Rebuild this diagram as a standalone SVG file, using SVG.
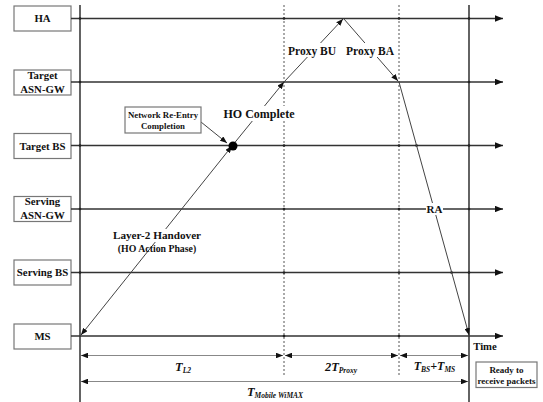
<svg xmlns="http://www.w3.org/2000/svg" width="543" height="402" viewBox="0 0 543 402">
<defs>
<marker id="ah" viewBox="0 0 10 8" refX="10" refY="4" markerWidth="8" markerHeight="6.4" markerUnits="userSpaceOnUse" orient="auto-start-reverse">
<path d="M0,0 L10,4 L0,8 z" fill="#111"/>
</marker>
<marker id="ahs" viewBox="0 0 10 8" refX="10" refY="4" markerWidth="7" markerHeight="5.6" markerUnits="userSpaceOnUse" orient="auto-start-reverse">
<path d="M0,0 L10,4 L0,8 z" fill="#111"/>
</marker>
</defs>
<style>
.box{fill:#fff;stroke:#777;stroke-width:1.2}
.lbl{font-family:"Liberation Serif","Times New Roman",serif;font-weight:bold;fill:#111;text-anchor:middle}
.bx{font-size:10.8px}
.hl{stroke:#333;stroke-width:1.4;fill:none}
.vl{stroke:#222;stroke-width:1.4;fill:none}
.dl{stroke:#555;stroke-width:1;stroke-dasharray:2,2;fill:none}
.msg{stroke:#444;stroke-width:1;fill:none}
.dim{stroke:#888;stroke-width:1.2;fill:none}
.it{font-family:"Liberation Serif","Times New Roman",serif;font-weight:bold;font-style:italic;fill:#111;text-anchor:middle}
.pt{fill:#222}
</style>
<rect width="543" height="402" fill="#fff"/>

<g id="axes">
<line class="vl" x1="80" y1="5" x2="80" y2="402"/>
<line class="vl" x1="469" y1="5" x2="469" y2="402"/>
<line class="dl" x1="284" y1="5" x2="284" y2="377"/>
<line class="dl" x1="399" y1="5" x2="399" y2="377"/>
</g>

<g id="node-ha">
<rect class="box" x="14" y="6" width="57" height="25"/>
<text class="lbl bx" x="42.5" y="22.3">HA</text>
</g>
<g id="node-target-asngw">
<rect class="box" x="14" y="70" width="57" height="25"/>
<text class="lbl bx" x="42.5" y="78.8">Target</text>
<text class="lbl bx" x="42.5" y="92.5">ASN-GW</text>
</g>
<g id="node-target-bs">
<rect class="box" x="14" y="133.5" width="57" height="25"/>
<text class="lbl bx" x="42.5" y="149.8">Target BS</text>
</g>
<g id="node-serving-asngw">
<rect class="box" x="14" y="196.5" width="57" height="25"/>
<text class="lbl bx" x="42.5" y="205.3">Serving</text>
<text class="lbl bx" x="42.5" y="219">ASN-GW</text>
</g>
<g id="node-serving-bs">
<rect class="box" x="14" y="260" width="57" height="25"/>
<text class="lbl bx" x="42.5" y="276.3">Serving BS</text>
</g>
<g id="node-ms">
<rect class="box" x="14" y="324" width="57" height="25"/>
<text class="lbl bx" x="42.5" y="340.3">MS</text>
</g>

<g id="connectors">
<line class="hl" x1="71" y1="18.5" x2="503" y2="18.5" marker-end="url(#ah)"/>
<line class="hl" x1="71" y1="82" x2="503" y2="82" marker-end="url(#ah)"/>
<line class="hl" x1="71" y1="145.5" x2="503" y2="145.5" marker-end="url(#ah)"/>
<line class="hl" x1="71" y1="209" x2="503" y2="209" marker-end="url(#ah)"/>
<line class="hl" x1="71" y1="272.5" x2="503" y2="272.5" marker-end="url(#ah)"/>
<line class="hl" x1="71" y1="336" x2="503" y2="336" marker-end="url(#ah)"/>

<g class="pt">
<circle cx="80" cy="18.5" r="1.3"/><circle cx="80" cy="82" r="1.3"/><circle cx="80" cy="145.5" r="1.3"/><circle cx="80" cy="209" r="1.3"/><circle cx="80" cy="272.5" r="1.3"/>
<circle cx="284" cy="18.5" r="1.3"/><circle cx="284" cy="145.5" r="1.3"/><circle cx="284" cy="209" r="1.3"/><circle cx="284" cy="272.5" r="1.3"/><circle cx="284" cy="336" r="1.3"/>
<circle cx="399" cy="18.5" r="1.3"/><circle cx="399" cy="145.5" r="1.3"/><circle cx="399" cy="209" r="1.3"/><circle cx="399" cy="272.5" r="1.3"/><circle cx="399" cy="336" r="1.3"/>
<circle cx="469" cy="18.5" r="1.3"/><circle cx="469" cy="82" r="1.3"/><circle cx="469" cy="145.5" r="1.3"/><circle cx="469" cy="209" r="1.3"/><circle cx="469" cy="272.5" r="1.3"/>
<circle cx="416.5" cy="145.5" r="1.3"/><circle cx="451.6" cy="272.5" r="1.3"/>
</g>

<line class="msg" x1="232" y1="146" x2="81" y2="335" marker-start="url(#ahs)" marker-end="url(#ahs)"/>
<line class="msg" x1="232" y1="146" x2="284" y2="82" marker-end="url(#ahs)"/>
<line class="msg" x1="284" y1="82" x2="343" y2="19" marker-end="url(#ahs)"/>
<line class="msg" x1="344" y1="19" x2="398" y2="81" marker-end="url(#ahs)"/>
<line class="msg" x1="399" y1="82" x2="469" y2="335" marker-end="url(#ahs)"/>
<line class="msg" x1="201" y1="122" x2="227" y2="143" marker-end="url(#ahs)"/>
<circle cx="233" cy="146" r="4.5" fill="#000"/>

<line class="dim" x1="81" y1="355.5" x2="283" y2="355.5" marker-start="url(#ahs)" marker-end="url(#ahs)"/>
<line class="dim" x1="285" y1="355.5" x2="398" y2="355.5" marker-start="url(#ahs)" marker-end="url(#ahs)"/>
<line class="dim" x1="400" y1="355.5" x2="468" y2="355.5" marker-start="url(#ahs)" marker-end="url(#ahs)"/>
<line class="dim" x1="81" y1="381.5" x2="468" y2="381.5" marker-start="url(#ahs)" marker-end="url(#ahs)"/>
</g>

<g id="node-network-reentry">
<rect class="box" x="125" y="107" width="76" height="26"/>
<text class="lbl" x="163" y="118" font-size="8.8">Network Re-Entry</text>
<text class="lbl" x="163" y="129" font-size="8.8">Completion</text>
</g>

<g id="labels">
<rect x="223" y="106" width="72" height="15" fill="#fff"/>
<text class="lbl" x="259" y="118" font-size="12">HO Complete</text>
<rect x="288" y="43" width="49" height="14" fill="#fff"/>
<text class="lbl" x="312" y="55" font-size="11.5">Proxy BU</text>
<rect x="346" y="43" width="49" height="14" fill="#fff"/>
<text class="lbl" x="370" y="55" font-size="11.5">Proxy BA</text>
<rect x="110" y="229" width="94" height="13" fill="#fff"/>
<text class="lbl" x="157" y="239" font-size="11.2">Layer-2 Handover</text>
<text class="lbl" x="157" y="251.5" font-size="9.8">(HO Action Phase)</text>
<rect x="426" y="203" width="17" height="12" fill="#fff"/>
<text class="lbl" x="434.5" y="213" font-size="11">RA</text>
<text class="lbl" x="485" y="349.5" font-size="10.7">Time</text>
<text class="it" x="183" y="370.5" font-size="12.5">T<tspan font-size="7.5" dy="2">L2</tspan></text>
<text class="it" x="341" y="370.5" font-size="12.5">2T<tspan font-size="7.5" dy="2">Proxy</tspan></text>
<text class="it" x="434.5" y="369.5" font-size="12">T<tspan font-size="7.5" dy="2">BS</tspan><tspan dy="-2">+T</tspan><tspan font-size="7.5" dy="2">MS</tspan></text>
<text class="it" x="275" y="395.5" font-size="12.5">T<tspan font-size="7.5" dy="2">Mobile WiMAX</tspan></text>
</g>

<g id="node-ready">
<rect class="box" x="476" y="362" width="61" height="25.5"/>
<text class="lbl" x="506.5" y="372.5" font-size="9">Ready to</text>
<text class="lbl" x="506.5" y="383.5" font-size="9">receive packets</text>
</g>
</svg>
